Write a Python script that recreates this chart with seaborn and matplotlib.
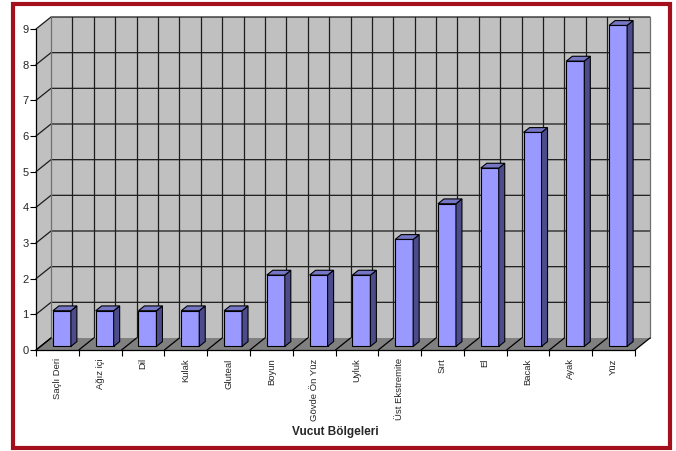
import matplotlib
matplotlib.use("Agg")
import matplotlib.pyplot as plt
from matplotlib.patches import Polygon, Rectangle
import seaborn as sns
import pandas as pd

# Lesion counts per body region
regions = ["Saçlı Deri", "Ağız içi", "Dil", "Kulak", "Gluteal", "Boyun",
           "Gövde Ön Yüz", "Uyluk", "Üst Ekstremite", "Sırt", "El", "Bacak",
           "Ayak", "Yüz"]
counts = [1, 1, 1, 1, 1, 2, 2, 2, 3, 4, 5, 6, 8, 9]
y_ticks = list(range(0, 10))
x_title = "Vucut Bölgeleri"

sns.set_style("white")
plt.rcParams["font.family"] = ["Liberation Sans", "DejaVu Sans"]

W, H = 676, 451
fig = plt.figure(figsize=(W / 100, H / 100), dpi=100)
fig.patch.set_facecolor("white")

# front plane of the 3-D box, in pixels
x0, x1 = 36, 635
y0, y9 = 350, 29
ax = fig.add_axes([x0 / W, (H - y0) / H, (x1 - x0) / W, (y0 - y9) / H])

df = pd.DataFrame({"region": regions, "count": counts})
n = len(regions)

# depth of the box in data units (15 px right, 12 px up)
px_x = (x1 - x0) / n
px_y = (y0 - y9) / 9
DX = 15 / px_x
DY = 12 / px_y

wall = "#C0C0C0"
floor = "#808080"
grid = "#1c1c1c"
ymax = y_ticks[-1]

# back wall
ax.add_patch(Polygon([(-0.5 + DX, DY), (n - 0.5 + DX, DY),
                      (n - 0.5 + DX, ymax + DY), (-0.5 + DX, ymax + DY)],
                     closed=True, facecolor=wall, edgecolor="none",
                     zorder=0, clip_on=False))
# side wall
ax.add_patch(Polygon([(-0.5, 0), (-0.5 + DX, DY), (-0.5 + DX, ymax + DY),
                      (-0.5, ymax)], closed=True, facecolor=wall,
                     edgecolor="none", zorder=0, clip_on=False))
# floor
ax.add_patch(Polygon([(-0.5, 0), (n - 0.5, 0), (n - 0.5 + DX, DY),
                      (-0.5 + DX, DY)], closed=True, facecolor=floor,
                     edgecolor="none", zorder=0.5, clip_on=False))

# gridlines on the back and side walls
for v in y_ticks[1:]:
    ax.plot([-0.5, -0.5 + DX, n - 0.5 + DX], [v, v + DY, v + DY],
            color=grid, lw=0.9, zorder=0.3, clip_on=False)
for k in range(2 * n + 1):
    gx = -0.5 + 0.5 * k + DX
    ax.plot([gx, gx], [DY, ymax + DY], color=grid if 0 < k < 2 * n else "#707070",
            lw=0.9, zorder=0.3, clip_on=False)
ax.plot([-0.5, -0.5 + DX], [0, DY], color="black", lw=0.9, zorder=0.6,
        clip_on=False)

# floor division lines between categories
for b in range(n + 1):
    bx = b - 0.5
    ax.plot([bx, bx + DX], [0, DY], color="black", lw=0.9, zorder=0.6,
            clip_on=False)

# front faces of the bars
bw = 0.42
sns.barplot(data=df, x="region", y="count", order=regions, ax=ax,
            color="#9999FF", saturation=1, width=bw,
            edgecolor="black", linewidth=0.8, zorder=2)

front = 0.3   # bar front sits 30% into the depth
depth = 0.4   # bar depth as a share of the box depth
fx, fy = front * DX, front * DY
bx_, by_ = depth * DX, depth * DY
for p in ax.patches:
    if not isinstance(p, Rectangle):
        continue
    h = p.get_height()
    if h <= 0:
        continue
    x = p.get_x() + fx
    y = fy
    p.set_x(x)
    p.set_y(y)
    p.set_clip_on(False)
    w = p.get_width()
    # right side face
    ax.add_patch(Polygon([(x + w, y), (x + w + bx_, y + by_),
                          (x + w + bx_, y + h + by_), (x + w, y + h)],
                         closed=True, facecolor="#4C4C8C", edgecolor="black",
                         lw=0.8, zorder=2, clip_on=False))
    # top face
    ax.add_patch(Polygon([(x, y + h), (x + w, y + h),
                          (x + w + bx_, y + h + by_), (x + bx_, y + h + by_)],
                         closed=True, facecolor="#7676C6", edgecolor="black",
                         lw=0.8, zorder=2, clip_on=False))

ax.set_xlim(-0.5, n - 0.5)
ax.set_ylim(0, ymax)
ax.set_facecolor("none")
for s in ["top", "right"]:
    ax.spines[s].set_visible(False)
for s in ["left", "bottom"]:
    ax.spines[s].set_color("black")
    ax.spines[s].set_linewidth(0.9)
    ax.spines[s].set_zorder(3)

ax.set_yticks(y_ticks)
ax.set_yticklabels([str(v) for v in y_ticks], fontsize=8)
ax.tick_params(axis="y", direction="out", length=4.3, width=0.8, pad=1,
               color="black", left=True)

ax.set_xticks(range(n))
ax.set_xticklabels(regions, rotation=90, fontsize=6.8, va="top", ha="center")
ax.set_xticks([b - 0.5 for b in range(n + 1)], minor=True)
ax.tick_params(axis="x", which="major", length=0, pad=6)
ax.tick_params(axis="x", which="minor", direction="out", length=4,
               width=0.8, color="black", bottom=True)

ax.set_xlabel(x_title, fontsize=8.5, fontweight="bold")
ax.xaxis.set_label_coords(0.5, -(432 - y0) / (y0 - y9))
ax.xaxis.label.set_va("center")
ax.set_ylabel("")

# red frame around the chart
fig.add_artist(Rectangle((13 / W, 1 - 448 / H), (670 - 13) / W, (448 - 4) / H,
                         transform=fig.transFigure, facecolor="none",
                         edgecolor="#A3101C", lw=3.0, zorder=10))

fig.savefig("out.png", dpi=100, facecolor="white")
